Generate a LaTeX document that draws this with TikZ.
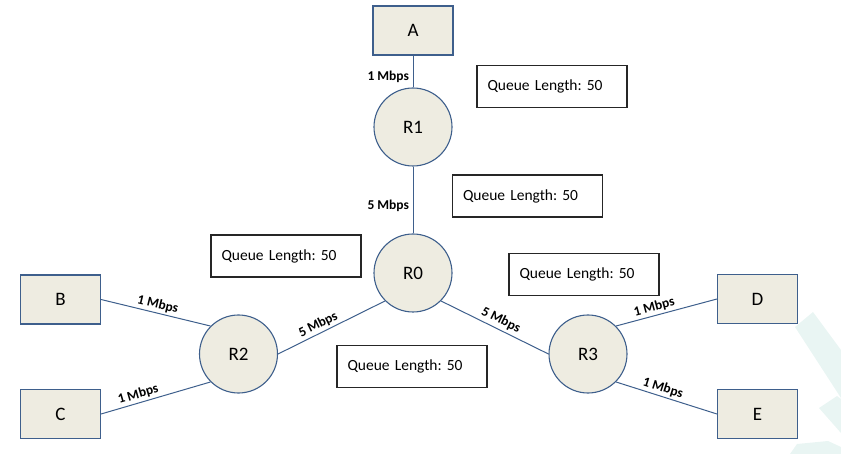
\documentclass[tikz,border=0pt]{standalone}
\usepackage{fontspec}
\setmainfont{Carlito}
\frenchspacing
\definecolor{boxfill}{HTML}{EEECE1}
\definecolor{edge}{HTML}{3E5F8C}
\definecolor{wm}{HTML}{E9F5F3}
\begin{document}
\begin{tikzpicture}[x=1pt,y=-1pt,
  host/.style={draw=edge, line width=1.1pt, fill=boxfill, minimum width=80pt, minimum height=49pt, inner sep=0pt, font=\fontsize{19}{22}\selectfont},
  router/.style={circle, draw=edge, line width=1.1pt, fill=boxfill, minimum size=78pt, inner sep=0pt, font=\fontsize{19}{22}\selectfont},
  qbox/.style={draw=black!85, line width=1.4pt, fill=white, minimum height=42pt, text width=129pt, inner xsep=10.5pt, inner ysep=0pt, align=left, font=\fontsize{15.5}{18}\selectfont},
  link/.style={draw=edge, line width=1pt},
  rate/.style={font=\bfseries\fontsize{13.5}{15}\selectfont, inner sep=1pt, text=black}
]
\useasboundingbox (0,0) rectangle (841,454);
% watermark
\fill[wm] (795,327) -- (813,312) -- (841,350) -- (841,398) -- cycle;
\fill[wm] (819,408) -- (837,396) -- (841,399) -- (841,433) -- cycle;
\fill[wm] (790,454) -- (797,444) -- (828,441) -- (841,447) -- (841,454) -- cycle;

\node[host] (A) at (413,30.5) {A};
\node[host] (B) at (60.5,299.5) {B};
\node[host] (C) at (60.5,414) {C};
\node[host] (D) at (757.5,299) {D};
\node[host] (E) at (757.5,414) {E};

\node[router] (R1) at (413,127) {R1};
\node[router] (R0) at (413,273) {R0};
\node[router] (R2) at (238.5,354) {R2};
\node[router] (R3) at (588,354) {R3};

\node[qbox] (q1) at (552,86.5) {Queue Length: 50};
\node[qbox] (q2) at (527.5,196) {Queue Length: 50};
\node[qbox] (q3) at (286,256) {Queue Length: 50};
\node[qbox] (q4) at (584,274.5) {Queue Length: 50};
\node[qbox] (q5) at (412,366.5) {Queue Length: 50};

\draw[link] (A.south) -- node[rate, pos=0.67, left=2.5pt] {1 Mbps} (R1.north);
\draw[link] (R1.south) -- node[rate, pos=0.58, left=2.5pt] {5 Mbps} (R0.north);
\draw[link] (B.east) -- node[rate, sloped, above=1pt, pos=0.5] {1 Mbps} (R2.135);
\draw[link] (C.east) -- node[rate, sloped, above=1pt, pos=0.36] {1 Mbps} (R2.225);
\draw[link] (R2.east) -- node[rate, sloped, above=1pt, pos=0.41] {5 Mbps} (R0.225);
\draw[link] (R0.315) -- node[rate, sloped, above=2pt, pos=0.52] {5 Mbps} (R3.west);
\draw[link] (R3.45) -- node[rate, sloped, above=1pt, pos=0.4] {1 Mbps} (D.west);
\draw[link] (R3.-45) -- node[rate, sloped, above=1pt, pos=0.44] {1 Mbps} (E.west);
\end{tikzpicture}
\end{document}
